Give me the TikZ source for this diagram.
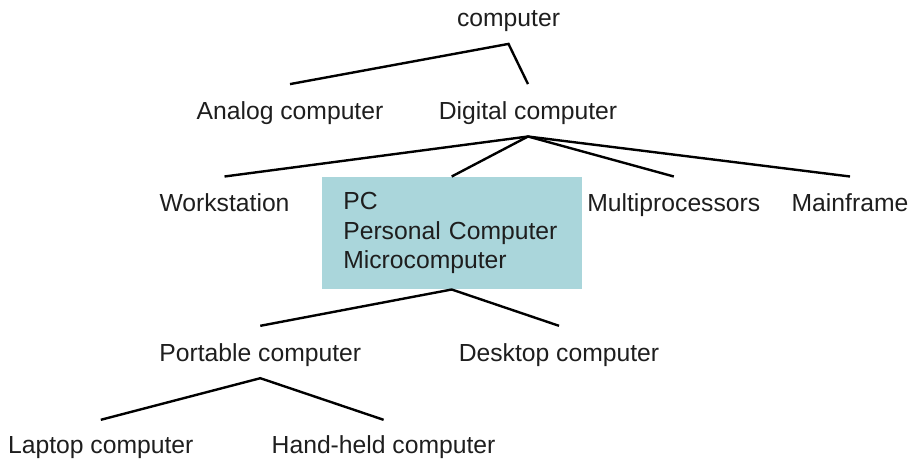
\documentclass[tikz,border=0pt]{standalone}
\usepackage{fontspec}
\setmainfont{Liberation Sans}
\definecolor{boxfill}{RGB}{170,214,219}
\definecolor{ink}{RGB}{30,30,30}
\begin{document}
\begin{tikzpicture}[x=1pt,y=-1pt,
  every node/.style={font=\fontsize{24.7}{29.2}\selectfont, text=ink},
  term/.style={anchor=base, inner xsep=0pt, inner ysep=11pt, text height=24pt, text depth=6pt},
  termleaf/.style={term, inner ysep=9.3pt},
  pcbox/.style={fill=boxfill, anchor=center, minimum width=260pt, minimum height=112.6pt,
    text width=216.8pt, inner xsep=21.6pt, inner ysep=0pt, align=left},
  branch/.style={line width=2.4pt, draw=black, line join=miter}]
\useasboundingbox (0,0) rectangle (910,463);

% category labels
\node[term] (root)    at (508.5,26.7)  {computer};
\node[term] (analog)  at (290,119.3)   {Analog computer};
\node[term] (digital) at (528,119.3)   {Digital computer};
\node[term] (work)    at (224.5,211.7) {Workstation};
\node[pcbox] (pc)     at (451.7,233)   {PC\\Personal Computer\\Microcomputer};
\node[term] (multi)   at (673.8,211.7) {Multiprocessors};
\node[term] (mainfr)  at (850,211.7)   {Mainframe};
\node[term] (port)    at (260.3,361)   {Portable computer};
\node[term] (desk)    at (559,361)     {Desktop computer};
\node[termleaf] (lap)  at (100.8,453.3) {Laptop computer};
\node[termleaf] (hand) at (383.6,453.3) {Hand-held computer};

% tree branches
\draw[branch] (analog.north) -- (root.south) -- (digital.north);
\draw[branch] (work.north) -- (digital.south) -- (mainfr.north);
\draw[branch] (pc.north) -- (digital.south) -- (multi.north);
\draw[branch] (port.north) -- (pc.south) -- (desk.north);
\draw[branch] (lap.north) -- (port.south) -- (hand.north);
\end{tikzpicture}
\end{document}
